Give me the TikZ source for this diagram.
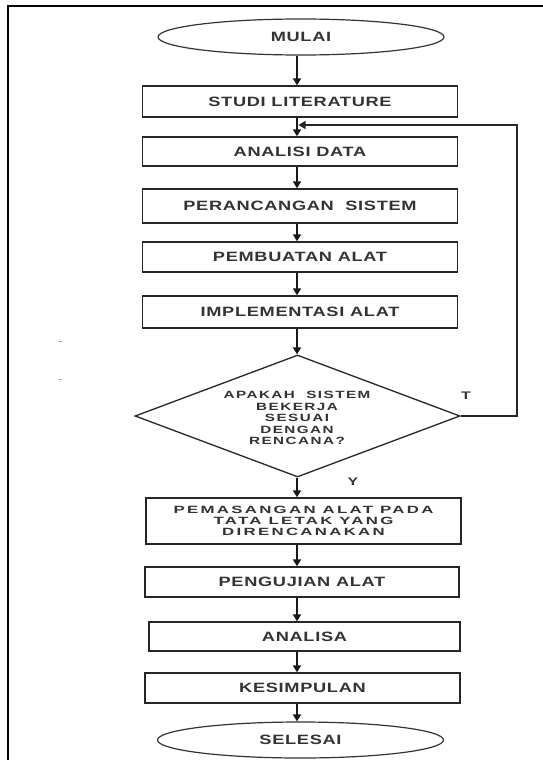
\documentclass[tikz,border=0pt]{standalone}
\usepackage{fontspec}
\setmainfont{Liberation Sans}
\newfontfamily\boxfont[FakeStretch=1.35,LetterSpace=5,BoldFont={Liberation Sans Bold}]{Liberation Sans}
\newfontfamily\smallfont[FakeStretch=1.45,LetterSpace=14,BoldFont={Liberation Sans Bold}]{Liberation Sans}
\newfontfamily\wideSmallfont[FakeStretch=1.6,LetterSpace=22,BoldFont={Liberation Sans Bold}]{Liberation Sans}
\usetikzlibrary{shapes.geometric,arrows.meta}

\tikzset{
  frame/.style={line width=1.6pt, draw=black},
  proc/.style={draw=black!85, line width=1.4pt, rectangle, inner sep=0pt,
    minimum width=315pt, font=\boxfont\bfseries\fontsize{13.5}{15}\selectfont,
    text=black!80, align=center},
  smallproc/.style={proc, font=\wideSmallfont\bfseries\fontsize{10.5}{11.2}\selectfont},
  term/.style={draw=black!80, line width=1.2pt, ellipse, inner sep=0pt,
    minimum width=286pt, minimum height=36pt,
    font=\boxfont\bfseries\fontsize{13.5}{15}\selectfont, text=black!80},
  decision/.style={draw=black!85, line width=1.3pt, diamond, inner sep=0pt,
    minimum width=325pt, minimum height=122pt},
  dtext/.style={font=\smallfont\bfseries\fontsize{10.5}{11.5}\selectfont,
    text=black!80, align=center, inner sep=0pt},
  flow/.style={line width=1.8pt, draw=black!90,
    -{Triangle[width=8pt,length=7pt]}},
  loopline/.style={line width=1.4pt, draw=black!85,
    -{Triangle[width=8pt,length=7pt]}},
  lbl/.style={font=\smallfont\bfseries\fontsize{11}{12}\selectfont, text=black!80},
}

\begin{document}
\begin{tikzpicture}[x=1pt,y=1pt]
\useasboundingbox (0,0) rectangle (543,-760);
\fill[white] (0,0) rectangle (543,-760);

% page frame (top and left edges)
\draw[frame] (543,-6) -- (8,-6) -- (8,-760);

% stray marks in the margin
\draw[black!35, line width=0.8pt] (58.5,-341) -- (61.5,-341);
\draw[black!35, line width=0.8pt] (58.5,-379) -- (61.5,-379);

% terminals and process steps
\node[term] (start) at (301,-37) {MULAI};
\node[proc, minimum height=31pt] (s1) at (300,-101.5) {STUDI LITERATURE};
\node[proc, minimum height=29pt] (s2) at (300,-151.5) {ANALISI DATA};
\node[proc, minimum height=34pt] (s3) at (300,-206) {PERANCANGAN\ \ SISTEM};
\node[proc, minimum height=30pt] (s4) at (300,-257) {PEMBUATAN ALAT};
\node[proc, minimum height=32pt] (s5) at (300,-312) {IMPLEMENTASI ALAT};

\node[decision] (dec) at (297.5,-416) {};
\node[dtext] (dlab) at (297,-418) {APAKAH\ \ SISTEM\\BEKERJA\\SESUAI\\DENGAN\\RENCANA?};

\node[smallproc, minimum height=46pt, minimum width=315pt] (s6) at (303.5,-521)
  {PEMASANGAN ALAT PADA\\TATA LETAK YANG\\DIRENCANAKAN};
\node[proc, minimum height=30pt, minimum width=314pt] (s7) at (302,-582) {PENGUJIAN ALAT};
\node[proc, minimum height=29pt, minimum width=311pt] (s8) at (304.5,-636.5) {ANALISA};
\node[proc, minimum height=30pt] (s9) at (302.5,-688) {KESIMPULAN};
\node[term] (stop) at (300.5,-740) {SELESAI};

% branch labels
\node[lbl] (tl) at (466,-396) {T};
\node[lbl] (yl) at (353,-482) {Y};

% main flow
\coordinate (axis) at (297,0);
\draw[flow] (axis |- start.south) -- (axis |- s1.north);
\draw[flow] (axis |- s1.south) -- (axis |- s2.north);
\draw[flow] (axis |- s2.south) -- (axis |- s3.north);
\draw[flow] (axis |- s3.south) -- (axis |- s4.north);
\draw[flow] (axis |- s4.south) -- (axis |- s5.north);
\draw[flow] (axis |- s5.south) -- (axis |- dec.north);
\draw[flow] (axis |- dec.south) -- (axis |- s6.north);
\draw[flow] (axis |- s6.south) -- (axis |- s7.north);
\draw[flow] (axis |- s7.south) -- (axis |- s8.north);
\draw[flow] (axis |- s8.south) -- (axis |- s9.north);
\draw[flow] (axis |- s9.south) -- (axis |- stop.north);

% feedback loop back to the analysis step
\coordinate (join) at (298.5,-125);
\draw[loopline] (dec.east) -- (517,-416) |- (join);
\end{tikzpicture}
\end{document}
